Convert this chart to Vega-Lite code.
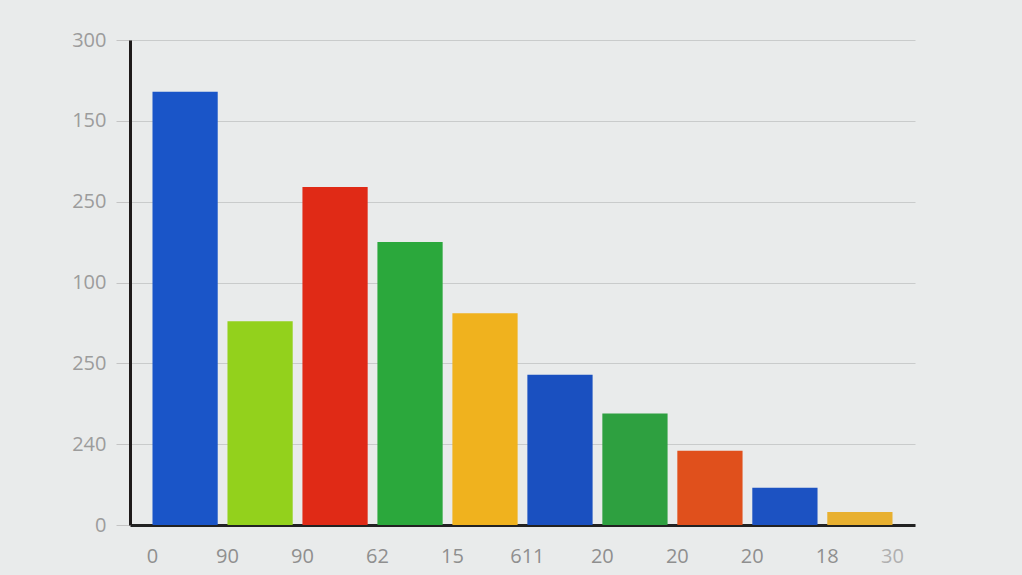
{
  "$schema": "https://vega.github.io/schema/vega-lite/v6.json",
  "autosize": {"type": "none"},
  "width": 785,
  "height": 485,
  "padding": {"left": 130, "top": 40, "right": 107, "bottom": 50},
  "background": "#e9ebeb",
  "datasets": {
    "bars": [
      {"slot": "b01", "value": 268, "tick": "0"},
      {"slot": "b02", "value": 126, "tick": "90"},
      {"slot": "b03", "value": 209, "tick": "90"},
      {"slot": "b04", "value": 175, "tick": "62"},
      {"slot": "b05", "value": 131, "tick": "15"},
      {"slot": "b06", "value": 93, "tick": "611"},
      {"slot": "b07", "value": 69, "tick": "20"},
      {"slot": "b08", "value": 46, "tick": "20"},
      {"slot": "b09", "value": 23, "tick": "20"},
      {"slot": "b10", "value": 8, "tick": "18"}
    ],
    "lastTick": [
      {"slot": "b10", "tick": "30"}
    ]
  },
  "layer": [
    {
      "data": {"name": "bars"},
      "mark": {"type": "bar"},
      "encoding": {
        "x": {
          "field": "slot",
          "type": "nominal",
          "scale": {"paddingInner": 0.13, "paddingOuter": 0.3},
          "axis": {
            "title": null,
            "labels": false,
            "ticks": false,
            "domainColor": "#222222",
            "domainWidth": 3
          }
        },
        "y": {
          "field": "value",
          "type": "quantitative",
          "scale": {"domain": [0, 300], "nice": false},
          "axis": {
            "title": null,
            "values": [0, 50, 100, 150, 200, 250, 300],
            "labelExpr": "datum.value == 300 ? '300' : datum.value == 250 ? '150' : datum.value == 200 ? '250' : datum.value == 150 ? '100' : datum.value == 100 ? '250' : datum.value == 50 ? '240' : '0'",
            "labelFont": "Open Sans",
            "labelFontSize": 20,
            "labelColor": "#9c9c9c",
            "labelPadding": 10,
            "tickColor": "#c4c4c4",
            "tickSize": 14,
            "domainColor": "#1e1a1a",
            "domainWidth": 3,
            "gridColor": "#c9cbcb",
            "gridWidth": 1.2
          }
        },
        "color": {
          "field": "slot",
          "type": "nominal",
          "scale": {
            "domain": ["b01", "b02", "b03", "b04", "b05", "b06", "b07", "b08", "b09", "b10"],
            "range": ["#1a55c8", "#93d11c", "#e02a16", "#2ba83c", "#f0b21e", "#1a50c0", "#2ea040", "#e0501c", "#1c52c2", "#e8b030"]
          },
          "legend": null
        }
      }
    },
    {
      "data": {"name": "bars"},
      "mark": {"type": "text", "dy": 32, "font": "Open Sans", "fontSize": 20, "color": "#8f8f8f"},
      "encoding": {
        "x": {"field": "slot", "type": "nominal", "bandPosition": 0},
        "y": {"datum": 0},
        "text": {"field": "tick"}
      }
    },
    {
      "data": {"name": "lastTick"},
      "mark": {"type": "text", "dy": 32, "font": "Open Sans", "fontSize": 20, "color": "#b0b0b0"},
      "encoding": {
        "x": {"field": "slot", "type": "nominal", "bandPosition": 1},
        "y": {"datum": 0},
        "text": {"field": "tick"}
      }
    }
  ],
  "config": {
    "view": {"stroke": null}
  }
}
